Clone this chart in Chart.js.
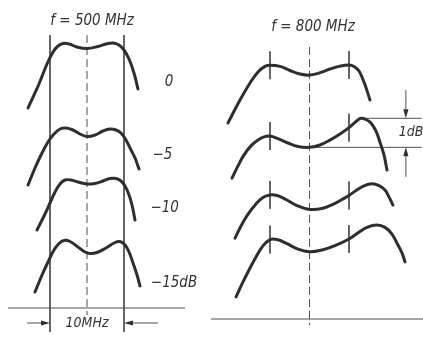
<!DOCTYPE html>
<html>
<head>
<meta charset="utf-8">
<script src="https://cdn.jsdelivr.net/npm/chart.js@4.4.1/dist/chart.umd.min.js"></script>
<style>
  html, body { margin: 0; padding: 0; background: #ffffff; }
  #lienzo { position: relative; width: 423px; height: 337px; }
  #lienzo canvas { position: absolute; top: 0; }
</style>
</head>
<body>
<div id="lienzo">
  <canvas id="c500" width="211" height="337" style="left:0"></canvas>
  <canvas id="c800" width="212" height="337" style="left:211px"></canvas>
</div>
<script>
// Respuesta en frecuencia a 500 MHz: pares [MHz desde el centro, dB]
const resp500_0 = [[-7.97, -10.8], [-6.49, -8.4], [-5.41, -6.4], [-4.59, -5.2], [-3.92, -4.6], [-3.24, -4.35], [-2.43, -4.4], [-1.35, -4.7], [0, -4.85], [1.49, -4.65], [2.7, -4.38], [3.51, -4.3], [4.32, -4.5], [5.0, -5.0], [5.68, -5.9], [6.35, -7.3], [6.89, -8.9]];
const resp500_5 = [[-7.97, -18.5], [-7.03, -16.8], [-6.08, -15.3], [-5.27, -14.2], [-4.46, -13.4], [-3.65, -12.9], [-2.84, -12.8], [-1.89, -13.0], [-0.95, -13.4], [0, -13.65], [1.08, -13.5], [2.16, -13.1], [3.11, -12.9], [3.92, -13.0], [4.59, -13.3], [5.27, -14.0], [5.95, -15.0], [6.49, -15.8], [7.03, -16.9]];
const resp500_10 = [[-6.76, -23.0], [-5.81, -21.6], [-5, -20.3], [-4.32, -19.2], [-3.65, -18.4], [-2.97, -18.0], [-2.16, -18.0], [-1.22, -18.2], [0, -18.4], [1.08, -18.35], [2.16, -18.1], [3.11, -17.85], [3.92, -17.85], [4.59, -18.1], [5.14, -18.6], [5.68, -19.5], [6.08, -20.5], [6.49, -22.0]];
const resp500_15 = [[-7.03, -29.2], [-6.08, -27.5], [-5.27, -26.2], [-4.46, -25.0], [-3.78, -24.35], [-3.11, -24.05], [-2.3, -24.15], [-1.22, -24.7], [-0.27, -25.2], [0.41, -25.35], [1.35, -25.25], [2.57, -24.8], [3.65, -24.3], [4.46, -24.15], [5.14, -24.5], [5.68, -25.2], [6.22, -26.3], [6.76, -27.5], [7.16, -28.6]];
const niveles500 = ['0', '−5', '−10', '−15dB'];

// Respuesta en frecuencia a 800 MHz
const resp800_a = [[-10.32, -4.24], [-8.8, -3.45], [-7.53, -2.86], [-6.52, -2.48], [-5.63, -2.29], [-5, -2.25], [-3.73, -2.29], [-2.47, -2.43], [-1.2, -2.55], [0, -2.59], [1.08, -2.53], [2.59, -2.38], [3.86, -2.28], [5, -2.24], [5.63, -2.29], [6.27, -2.45], [6.9, -2.83], [7.66, -3.45]];
const resp800_b = [[-9.81, -6.14], [-9.05, -5.72], [-8.29, -5.34], [-7.41, -5.03], [-6.52, -4.83], [-5.76, -4.72], [-5, -4.69], [-3.99, -4.78], [-2.72, -4.93], [-1.46, -5.05], [0, -5.08], [1.33, -5.0], [2.59, -4.83], [3.86, -4.62], [5, -4.4], [5.89, -4.19], [6.52, -4.08], [7.15, -4.12], [7.78, -4.24], [8.42, -4.52], [8.92, -4.9], [9.43, -5.34], [9.81, -5.86]];
const resp800_c = [[-9.43, -8.21], [-8.67, -7.79], [-7.78, -7.38], [-6.77, -7.03], [-5.89, -6.81], [-5, -6.72], [-4.11, -6.74], [-2.97, -6.88], [-1.58, -7.09], [0, -7.22], [1.58, -7.19], [3.1, -7.03], [4.37, -6.84], [5, -6.74], [5.89, -6.57], [6.9, -6.41], [7.91, -6.34], [8.8, -6.4], [9.56, -6.55], [10.06, -6.79], [10.57, -7.07]];
const resp800_d = [[-9.3, -10.24], [-8.54, -9.79], [-7.66, -9.31], [-6.77, -8.86], [-5.89, -8.48], [-5, -8.26], [-4.11, -8.26], [-2.85, -8.4], [-1.46, -8.59], [0, -8.68], [1.58, -8.62], [3.23, -8.47], [5, -8.24], [6.14, -8.03], [7.28, -7.84], [8.54, -7.76], [9.56, -7.84], [10.44, -8.07], [11.2, -8.45], [11.71, -8.72], [12.09, -9.03]];

const anchoBanda = 10; // MHz entre marcas

const TRAZO = '#2e2e2e';
const LINEA = '#505050';
const FUENTE = '"Liberation Sans Narrow", "DejaVu Sans Condensed", "Roboto", sans-serif';

// Curva gruesa
function curva(puntos) {
  return {
    data: puntos.map(([x, y]) => ({ x, y })),
    borderColor: TRAZO,
    borderWidth: 3,
    tension: 0.4,
    borderCapStyle: 'round',
    pointRadius: 0,
    clip: false
  };
}

// Linea fina de referencia
function linea(x1, y1, x2, y2, dash) {
  return {
    data: [{ x: x1, y: y1 }, { x: x2, y: y2 }],
    borderColor: LINEA,
    borderWidth: 1,
    borderDash: dash || [],
    tension: 0,
    pointRadius: 0,
    clip: false
  };
}

function valorEn(puntos, x) {
  const p = puntos.find(q => q[0] === x);
  return p ? p[1] : null;
}

function flecha(ctx, x1, y1, x2, y2) {
  const ang = Math.atan2(y2 - y1, x2 - x1);
  const largo = 9, medio = 2.6;
  ctx.beginPath();
  ctx.moveTo(x1, y1);
  ctx.lineTo(x2 - Math.cos(ang) * largo, y2 - Math.sin(ang) * largo);
  ctx.stroke();
  ctx.beginPath();
  ctx.moveTo(x2, y2);
  ctx.lineTo(x2 - Math.cos(ang) * largo - Math.sin(ang) * medio, y2 - Math.sin(ang) * largo + Math.cos(ang) * medio);
  ctx.lineTo(x2 - Math.cos(ang) * largo + Math.sin(ang) * medio, y2 - Math.sin(ang) * largo - Math.cos(ang) * medio);
  ctx.closePath();
  ctx.fill();
}

// Textos y flechas en coordenadas de las escalas
const notasPlugin = {
  id: 'notas',
  afterDatasetsDraw(chart, args, opts) {
    const { ctx, scales: { x, y } } = chart;
    ctx.save();
    ctx.strokeStyle = LINEA;
    ctx.fillStyle = TRAZO;
    ctx.lineWidth = 1;
    (opts.flechas || []).forEach(f => {
      flecha(ctx, x.getPixelForValue(f[0]), y.getPixelForValue(f[1]), x.getPixelForValue(f[2]), y.getPixelForValue(f[3]));
    });
    ctx.fillStyle = '#333333';
    ctx.textAlign = 'center';
    ctx.textBaseline = 'middle';
    (opts.textos || []).forEach(t => {
      ctx.font = 'italic ' + t.tam + 'px ' + FUENTE;
      ctx.fillText(t.texto, x.getPixelForValue(t.x), y.getPixelForValue(t.y));
    });
    ctx.restore();
  }
};

function crearPanel(id, rangoX, rangoY, datasets, notas) {
  return new Chart(document.getElementById(id), {
    type: 'line',
    data: { datasets },
    options: {
      responsive: false,
      animation: false,
      layout: { padding: 0 },
      scales: {
        x: { type: 'linear', min: rangoX[0], max: rangoX[1], display: false },
        y: { type: 'linear', min: rangoY[0], max: rangoY[1], display: false }
      },
      plugins: { legend: { display: false }, tooltip: { enabled: false }, notas }
    },
    plugins: [notasPlugin]
  });
}

// ---- Panel izquierdo: 500 MHz ----
const b = anchoBanda / 2;
crearPanel('c500', [-11.76, 16.76], [-33.7, 0], [
  curva(resp500_0), curva(resp500_5), curva(resp500_10), curva(resp500_15),
  linea(-b, -3.5, -b, -33.2),
  linea(b, -3.5, b, -33.2),
  linea(0, -3.5, 0, -31.5, [8, 4]),
  linea(-10.68, -30.8, 13.24, -30.8)
], {
  flechas: [[-8.1, -32.3, -b, -32.3], [9.6, -32.3, b, -32.3]],
  textos: [
    { texto: 'f = 500 MHz', x: 0.68, y: -2.1, tam: 15 },
    { texto: niveles500[0], x: 11.08, y: -8.2, tam: 15 },
    { texto: niveles500[1], x: 10.2, y: -15.5, tam: 15 },
    { texto: niveles500[2], x: 10.5, y: -20.8, tam: 15 },
    { texto: niveles500[3], x: 11.76, y: -28.3, tam: 15 },
    { texto: anchoBanda + 'MHz', x: 0, y: -32.3, tam: 14 }
  ]
});

// ---- Panel derecho: 800 MHz ----
const curvas800 = [resp800_a, resp800_b, resp800_c, resp800_d];
const marcas = [];
curvas800.forEach(c => {
  [-b, b].forEach(xm => {
    const v = valorEn(c, xm);
    marcas.push(linea(xm, v + 0.48, xm, v - 0.48));
  });
});

// Rizado de 1 dB en la segunda curva
const picoB = resp800_b.reduce((m, p) => (p[1] > m[1] ? p : m));
const centroB = valorEn(resp800_b, 0);

crearPanel('c800', [-12.47, 14.37], [-11.62, 0], [
  ...curvas800.map(curva),
  ...marcas,
  linea(0, -1.62, 0, -11.21, [8, 4]),
  linea(-12.47, -11.0, 14.37, -11.0),
  linea(picoB[0], picoB[1], 14.2, picoB[1]),
  linea(0, centroB, 14.2, centroB)
], {
  flechas: [[12.2, -3.1, 12.2, picoB[1]], [12.2, -6.1, 12.2, centroB]],
  textos: [
    { texto: 'f = 800 MHz', x: 0.44, y: -0.93, tam: 15 },
    { texto: '1dB', x: 12.85, y: (picoB[1] + centroB) / 2, tam: 14 }
  ]
});
</script>
</body>
</html>
